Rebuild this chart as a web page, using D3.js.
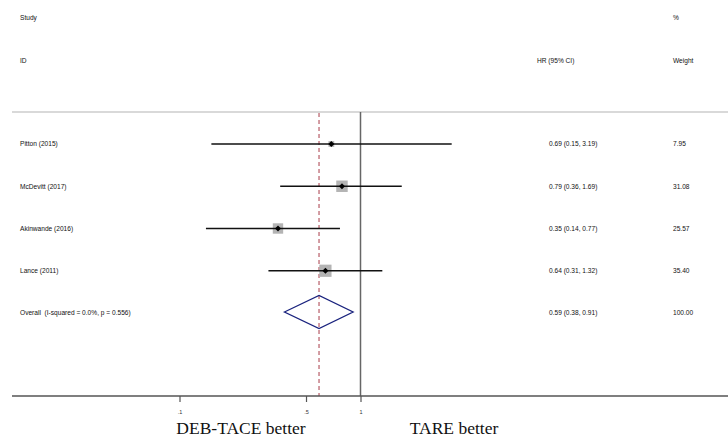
<!DOCTYPE html>
<html>
<head>
<meta charset="utf-8">
<script src="https://cdn.jsdelivr.net/npm/d3@7"></script>
<style>
  body { margin: 0; background: #fff; }
  svg { display: block; }
  .small { font-family: "Liberation Sans", Arial, sans-serif; font-size: 6.6px; fill: #111; white-space: pre; }
</style>
</head>
<body>
<div id="chart"></div>
<script>
// study data
var studies = ["Pitton (2015)", "McDevitt (2017)", "Akinwande (2016)", "Lance (2011)"];
var hr = [0.69, 0.79, 0.35, 0.64];
var lower = [0.15, 0.36, 0.14, 0.31];
var upper = [3.19, 1.69, 0.77, 1.32];
var weights = [7.95, 31.08, 25.57, 35.40];
var overallLabel = "Overall  (I-squared = 0.0%, p = 0.556)";
var overall = [0.59, 0.38, 0.91];
var tickValues = [0.1, 0.5, 1];
var tickLabels = [".1", ".5", "1"];

var width = 728, height = 437;

var svg = d3.select("#chart").append("svg")
    .attr("width", width)
    .attr("height", height);

// log x scale, 1 decade ~ 181px
var x = d3.scaleLog().domain([0.1, 1]).range([179.5, 360.5]);

// rows
var rowNames = studies.concat(["overall"]);
var y = d3.scalePoint().domain(rowNames).range([144, 313]);

var topY = 112, axisY = 396;

// header
svg.append("text").attr("class", "small").attr("x", 20).attr("y", 20).text("Study");
svg.append("text").attr("class", "small").attr("x", 20).attr("y", 63).text("ID");
svg.append("text").attr("class", "small").attr("x", 537).attr("y", 63).text("HR (95% CI)");
svg.append("text").attr("class", "small").attr("x", 673).attr("y", 20).text("%");
svg.append("text").attr("class", "small").attr("x", 673).attr("y", 63).text("Weight");

svg.append("line")
    .attr("x1", 12).attr("x2", width)
    .attr("y1", topY).attr("y2", topY)
    .attr("stroke", "#ccc").attr("stroke-width", 1.5);

// null line
svg.append("line")
    .attr("x1", x(1)).attr("x2", x(1))
    .attr("y1", topY).attr("y2", axisY)
    .attr("stroke", "#666").attr("stroke-width", 1.5);

// overall effect line
svg.append("line")
    .attr("x1", x(overall[0])).attr("x2", x(overall[0]))
    .attr("y1", topY + 1).attr("y2", axisY)
    .attr("stroke", "#a83a48").attr("stroke-width", 1)
    .attr("stroke-dasharray", "4,3");

var data = studies.map(function(s, i) {
    return { name: s, hr: hr[i], lo: lower[i], hi: upper[i], w: weights[i] };
});

var size = d3.scaleSqrt().domain([0, 40]).range([0, 13]);

var rows = svg.selectAll(".row").data(data).enter().append("g").attr("class", "row");

rows.append("rect")
    .attr("x", function(d) { return x(d.hr) - size(d.w) / 2; })
    .attr("y", function(d) { return y(d.name) - size(d.w) / 2; })
    .attr("width", function(d) { return size(d.w); })
    .attr("height", function(d) { return size(d.w); })
    .attr("fill", "#b4b4b4");

rows.append("line")
    .attr("x1", function(d) { return x(d.lo); })
    .attr("x2", function(d) { return x(d.hi); })
    .attr("y1", function(d) { return y(d.name); })
    .attr("y2", function(d) { return y(d.name); })
    .attr("stroke", "#111").attr("stroke-width", 1.5);

// small point diamond
rows.append("path")
    .attr("d", "M-3,0L0,-3L3,0L0,3Z")
    .attr("transform", function(d) { return "translate(" + x(d.hr) + "," + y(d.name) + ")"; })
    .attr("fill", "#000");

rows.append("text").attr("class", "small")
    .attr("x", 20).attr("y", function(d) { return y(d.name) + 2.3; })
    .text(function(d) { return d.name; });

rows.append("text").attr("class", "small")
    .attr("x", 549).attr("y", function(d) { return y(d.name) + 2.3; })
    .text(function(d) { return d.hr.toFixed(2) + " (" + d.lo.toFixed(2) + ", " + d.hi.toFixed(2) + ")"; });

rows.append("text").attr("class", "small")
    .attr("x", 673).attr("y", function(d) { return y(d.name) + 2.3; })
    .text(function(d) { return d.w.toFixed(2); });

// overall diamond
var oy = y("overall") - 1;
svg.append("path")
    .attr("d", "M" + x(overall[1]) + "," + oy +
               "L" + x(overall[0]) + "," + (oy - 16.5) +
               "L" + x(overall[2]) + "," + oy +
               "L" + x(overall[0]) + "," + (oy + 16.5) + "Z")
    .attr("fill", "none").attr("stroke", "#1a237e").attr("stroke-width", 1.3);

svg.append("text").attr("class", "small").attr("x", 20).attr("y", y("overall") + 2.3).text(overallLabel);
svg.append("text").attr("class", "small").attr("x", 549).attr("y", y("overall") + 2.3)
    .text(overall[0].toFixed(2) + " (" + overall[1].toFixed(2) + ", " + overall[2].toFixed(2) + ")");
svg.append("text").attr("class", "small").attr("x", 673).attr("y", y("overall") + 2.3).text("100.00");

// x axis
var axis = svg.append("g")
    .attr("transform", "translate(0," + axisY + ")")
    .call(d3.axisBottom(x).tickValues(tickValues)
        .tickFormat(function(d, i) { return tickLabels[i]; })
        .tickSize(6).tickSizeOuter(0));
axis.select(".domain").remove();
axis.insert("line", ":first-child")
    .attr("x1", 12).attr("x2", width)
    .attr("stroke", "#555").attr("stroke-width", 1.5);
axis.selectAll(".tick line").attr("stroke", "#555").attr("stroke-width", 1.2);
axis.selectAll(".tick text")
    .attr("font-family", "Liberation Sans, Arial, sans-serif")
    .attr("font-size", 5.5).attr("fill", "#333").attr("dy", "1.6em");

// direction labels
svg.append("text")
    .attr("x", 241).attr("y", 434)
    .attr("text-anchor", "middle")
    .attr("font-family", "Liberation Serif, Times New Roman, serif")
    .attr("font-size", 17.5).attr("fill", "#111")
    .text("DEB-TACE better");
svg.append("text")
    .attr("x", 454).attr("y", 434)
    .attr("text-anchor", "middle")
    .attr("font-family", "Liberation Serif, Times New Roman, serif")
    .attr("font-size", 17.5).attr("fill", "#111")
    .text("TARE better");
</script>
</body>
</html>
